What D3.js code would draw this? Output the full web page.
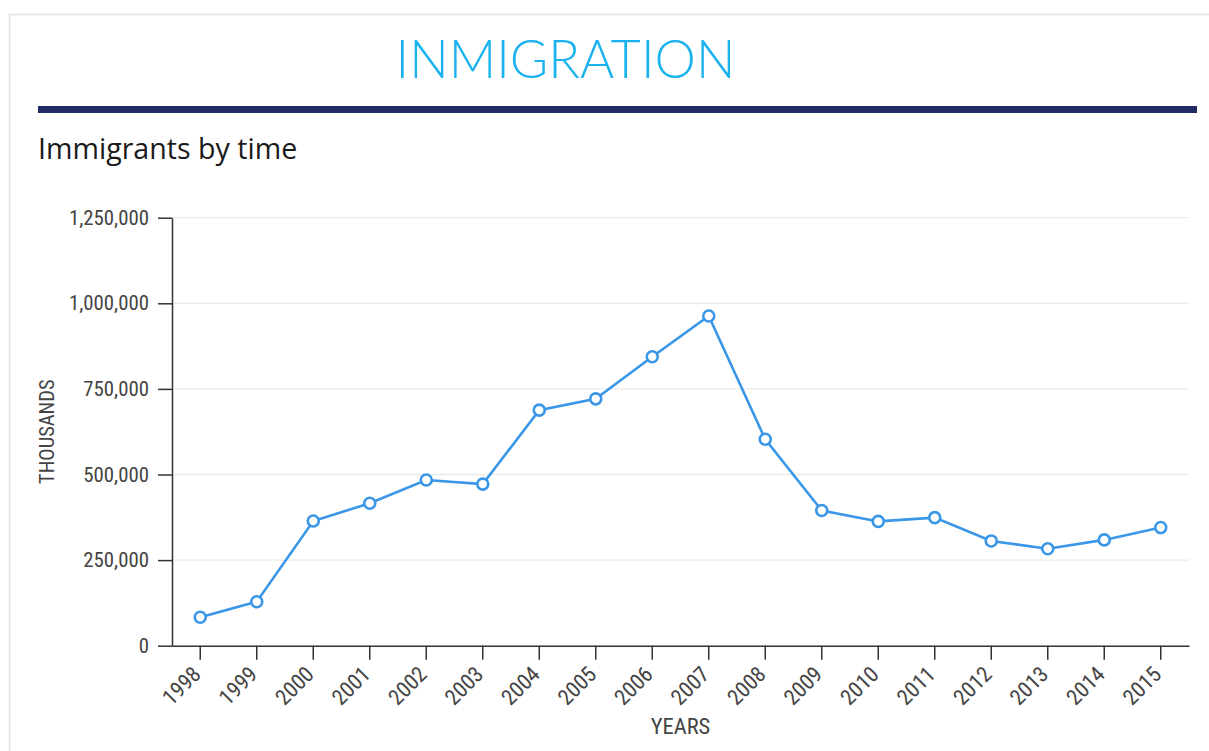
<!DOCTYPE html>
<html>
<head>
<meta charset="utf-8">
<script src="https://cdn.jsdelivr.net/npm/d3@7"></script>
<style>
  html, body { margin: 0; padding: 0; background: #fff; }
  svg { display: block; }
</style>
</head>
<body>
<svg id="chart" width="1209" height="751"></svg>
<script>
const years = ["1998","1999","2000","2001","2002","2003","2004","2005","2006","2007","2008","2009","2010","2011","2012","2013","2014","2015"];
const immigrants = [83000,128500,364000,416000,484000,472000,688000,721000,844000,963000,603000,395000,363000,374000,306000,283000,309000,345000];
const yTicks = [0,250000,500000,750000,1000000,1250000];
const titleText = "INMIGRATION";
const subtitleText = "Immigrants by time";
const yAxisLabel = "THOUSANDS";
const xAxisLabel = "YEARS";

(function () {
const svg = d3.select("#chart");
const W = 1209, H = 751;
const plotLeft = 172, plotRight = 1189, plotTop = 217.7, plotBottom = 645.7;
const tickFont = "'Roboto Condensed','Liberation Sans Narrow','Arial Narrow',sans-serif";

// frame
svg.append("path")
  .attr("d", `M9.5,${H} L9.5,14.5 L${W},14.5`)
  .attr("fill", "none").attr("stroke", "#e2e2e2").attr("stroke-width", 1.5);

// title
svg.append("text")
  .attr("x", 565.5).attr("y", 77.5)
  .attr("text-anchor", "middle")
  .attr("font-family", "Lato, 'Open Sans', sans-serif")
  .attr("font-weight", 300)
  .attr("font-size", 52.3)
  .attr("fill", "#1ab2ee")
  .text(titleText);

// dark rule
svg.append("rect")
  .attr("x", 38).attr("y", 106).attr("width", 1159).attr("height", 7)
  .attr("fill", "#1f2b65");

// subtitle
svg.append("text")
  .attr("x", 38).attr("y", 158.5)
  .attr("font-family", "'Open Sans', 'Noto Sans', sans-serif")
  .attr("font-size", 28.6)
  .attr("fill", "#1a1a1a")
  .text(subtitleText);

const x = d3.scaleBand().domain(years).range([plotLeft, plotRight]);
const y = d3.scaleLinear().domain([0, 1250000]).range([plotBottom, plotTop]);

// gridlines
svg.append("g").selectAll("line").data(yTicks.filter(d => d > 0)).join("line")
  .attr("x1", plotLeft).attr("x2", plotRight)
  .attr("y1", d => y(d)).attr("y2", d => y(d))
  .attr("stroke", "#ebebeb").attr("stroke-width", 1.3);

// y axis
const yAxis = svg.append("g")
  .attr("transform", `translate(${plotLeft},0)`)
  .call(d3.axisLeft(y).tickValues(yTicks).tickSize(14).tickSizeOuter(0).tickPadding(9)
    .tickFormat(d3.format(",")));
yAxis.select(".domain").attr("stroke", "#333").attr("stroke-width", 1.5);
yAxis.selectAll(".tick line").attr("stroke", "#333").attr("stroke-width", 1.5);
yAxis.selectAll(".tick text")
  .attr("font-family", tickFont).attr("font-size", 20.8).attr("fill", "#444");

// x axis
const xAxis = svg.append("g")
  .attr("transform", `translate(0,${plotBottom})`)
  .call(d3.axisBottom(x).tickSize(14).tickSizeOuter(0));
xAxis.select(".domain").attr("stroke", "#333").attr("stroke-width", 1.5);
xAxis.selectAll(".tick line").attr("stroke", "#333").attr("stroke-width", 1.5);
xAxis.selectAll(".tick text")
  .attr("font-family", tickFont).attr("font-size", 22).attr("fill", "#444")
  .attr("text-anchor", "end")
  .attr("x", 0).attr("y", 0).attr("dy", "0.71em")
  .attr("transform", "translate(-9,19) rotate(-45)");

// axis titles
svg.append("text")
  .attr("transform", `translate(54,${(plotTop + plotBottom) / 2}) rotate(-90)`)
  .attr("text-anchor", "middle")
  .attr("font-family", tickFont).attr("font-size", 20.5).attr("fill", "#444")
  .text(yAxisLabel);

svg.append("text")
  .attr("x", (plotLeft + plotRight) / 2).attr("y", 734)
  .attr("text-anchor", "middle")
  .attr("font-family", tickFont).attr("font-size", 22.5).attr("fill", "#444")
  .text(xAxisLabel);

// line
const data = years.map((yr, i) => ({ yr, v: immigrants[i] }));
const cx = d => x(d.yr) + x.bandwidth() / 2;
svg.append("path")
  .datum(data)
  .attr("fill", "none")
  .attr("stroke", "#3a97e8")
  .attr("stroke-width", 2.6)
  .attr("d", d3.line().x(cx).y(d => y(d.v)));

svg.append("g").selectAll("circle").data(data).join("circle")
  .attr("cx", cx).attr("cy", d => y(d.v)).attr("r", 5.5)
  .attr("fill", "#fff").attr("stroke", "#3a97e8").attr("stroke-width", 2.6);
})();
</script>
</body>
</html>
